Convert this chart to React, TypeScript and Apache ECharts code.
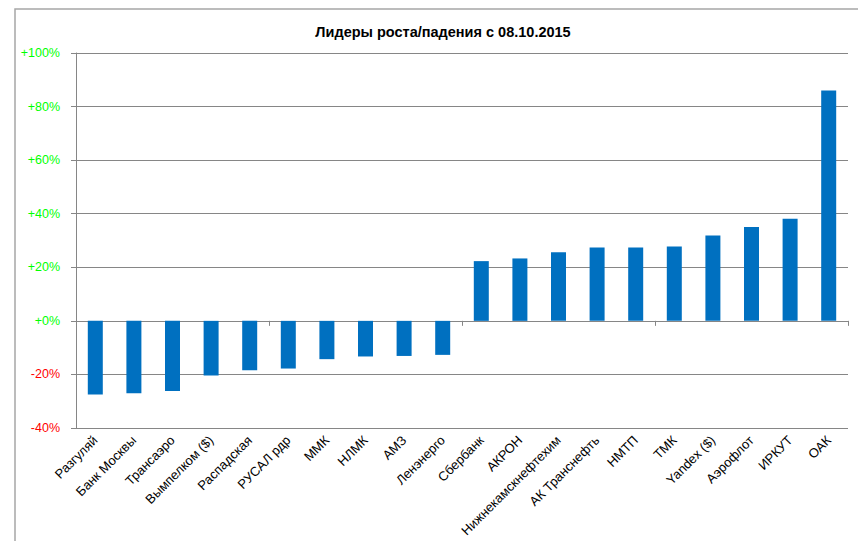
import React, { useEffect, useRef } from "react";
import * as echarts from "echarts";

const categories = [
  "Разгуляй",
  "Банк Москвы",
  "Трансаэро",
  "Вымпелком ($)",
  "Распадская",
  "РУСАЛ рдр",
  "ММК",
  "НЛМК",
  "АМЗ",
  "Ленэнерго",
  "Сбербанк",
  "АКРОН",
  "Нижнекамскнефтехим",
  "АК Транснефть",
  "НМТП",
  "ТМК",
  "Yandex ($)",
  "Аэрофлот",
  "ИРКУТ",
  "ОАК",
];

const values = [
  -27.5, -27.0, -26.2, -20.4, -18.4, -17.8, -14.3, -13.3, -13.1, -12.7,
  22.3, 23.3, 25.6, 27.4, 27.4, 27.8, 31.9, 35.0, 38.1, 86.0,
];

const titleText = "Лидеры роста/падения с 08.10.2015";
const yMin = -40;
const yMax = 100;
const yStep = 20;

const FONT = "Liberation Sans";

export default function App() {
  const ref = useRef<HTMLDivElement>(null);

  useEffect(() => {
    document.body.style.margin = "0";
    if (!ref.current) return;
    const chart = echarts.init(ref.current, null, { renderer: "svg" });
    const gray = "#868686";
    chart.setOption({
      animation: false,
      backgroundColor: "#ffffff",
      title: {
        text: titleText,
        left: 438,
        top: 19,
        textAlign: "center",
        textStyle: {
          fontFamily: FONT,
          fontSize: 14.5,
          fontWeight: "bold",
          color: "#000000",
        },
      },
      graphic: [
        {
          type: "rect",
          shape: { x: 15, y: 9, width: 1000, height: 700 },
          style: { fill: "none", stroke: "#a6a6a6", lineWidth: 1.5 },
          silent: true,
        },
      ],
      grid: { left: 76, right: 10, top: 53, bottom: 113, containLabel: false },
      xAxis: [
        {
          type: "category",
          data: categories,
          position: "bottom",
          axisLine: { show: false, onZero: false },
          axisTick: { show: false },
          axisLabel: {
            rotate: 45,
            interval: 0,
            margin: 10,
            fontFamily: FONT,
            fontSize: 13,
            color: "#000000",
          },
        },
        {
          type: "category",
          data: categories,
          position: "bottom",
          axisLine: { show: true, onZero: true, lineStyle: { color: gray, width: 1 } },
          axisTick: { show: true, length: 5, lineStyle: { color: gray } },
          axisLabel: { show: false },
        },
      ],
      yAxis: {
        type: "value",
        min: yMin,
        max: yMax,
        interval: yStep,
        axisLine: { show: true, lineStyle: { color: gray, width: 1 } },
        axisTick: { show: true, length: 5, lineStyle: { color: gray } },
        splitLine: { show: true, lineStyle: { color: gray, width: 1 } },
        axisLabel: {
          margin: 16,
          formatter: (v: number) =>
            v >= 0 ? `{g|+${v}%}` : `{r|${v}%}`,
          rich: {
            g: { color: "#00ff00", fontFamily: FONT, fontSize: 12.5 },
            r: { color: "#ff0000", fontFamily: FONT, fontSize: 12.5 },
          },
        },
      },
      series: [
        {
          type: "bar",
          xAxisIndex: 0,
          data: values,
          barWidth: 15,
          itemStyle: { color: "#0070c0" },
        },
      ],
    });
    return () => chart.dispose();
  }, []);

  return <div ref={ref} style={{ width: 858, height: 541 }} />;
}
